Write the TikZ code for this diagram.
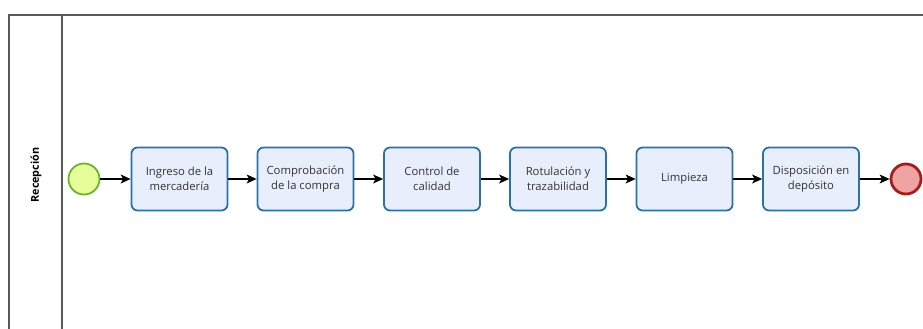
\documentclass[tikz,border=0pt]{standalone}
\usepackage{fontspec}
\setmainfont{Open Sans}
\usetikzlibrary{arrows.meta}
\definecolor{taskfill}{HTML}{E8EEFB}
\definecolor{taskline}{HTML}{2A72A6}
\definecolor{startfill}{HTML}{E6FD9A}
\definecolor{startline}{HTML}{6DB32E}
\definecolor{endfill}{HTML}{EFA4A4}
\definecolor{endline}{HTML}{A51D1D}
\definecolor{poolline}{HTML}{5A5A5A}
\definecolor{labeltext}{HTML}{333333}
\begin{document}
\begin{tikzpicture}[x=1pt,y=-1pt,
  task/.style={draw=taskline, line width=1.8pt, fill=taskfill, rounded corners=6pt,
    minimum width=96pt, minimum height=63pt, align=center, text=labeltext,
    font=\fontsize{11.3}{15}\selectfont, inner sep=2pt},
  startev/.style={circle, draw=startline, line width=1.8pt, fill=startfill, minimum size=31pt, inner sep=0pt},
  endev/.style={circle, draw=endline, line width=2.8pt, fill=endfill, minimum size=30pt, inner sep=0pt},
  flow/.style={draw=black, line width=1.1pt, -{Stealth[length=10pt,width=9pt,inset=2.5pt]}},
  pool/.style={draw=poolline, line width=1.4pt}]
\useasboundingbox (0,0) rectangle (923,329);
% pool and lane borders
\draw[pool] (9,330) -- (9,15) -- (924,15);
\draw[pool] (62,15) -- (62,330);
\node[rotate=90, font=\bfseries\fontsize{10.8}{13}\selectfont, text=black] (lane) at (36,175) {Recepción};
% events and tasks
\node[startev] (s) at (84,179) {};
\node[task] (t1) at (179.5,179) {Ingreso de la\\mercadería};
\node[task] (t2) at (305.5,179) {Comprobación\\de la compra};
\node[task] (t3) at (432,179) {Control de\\calidad};
\node[task] (t4) at (558,179) {Rotulación y\\trazabilidad};
\node[task] (t5) at (684.5,179) {Limpieza};
\node[task] (t6) at (811,179) {Disposición en\\depósito};
\node[endev] (e) at (906,179) {};
% sequence flows
\draw[flow] (s) -- (t1);
\draw[flow] (t1) -- (t2);
\draw[flow] (t2) -- (t3);
\draw[flow] (t3) -- (t4);
\draw[flow] (t4) -- (t5);
\draw[flow] (t5) -- (t6);
\draw[flow] (t6) -- (e);
\end{tikzpicture}
\end{document}
